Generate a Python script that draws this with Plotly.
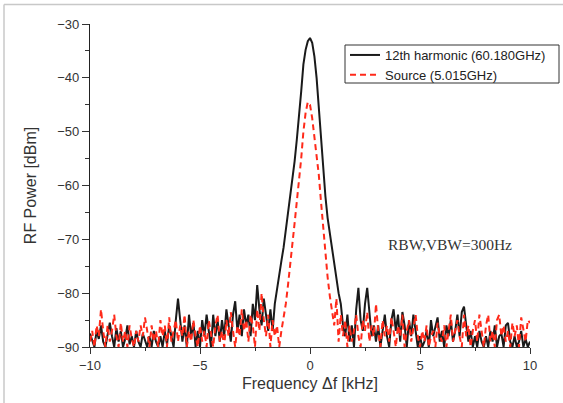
import numpy as np
import plotly.graph_objects as go

# Frequency grid (kHz), step 0.1 kHz from -10 to 10
freq_start = -10.0
freq_step = 0.1

black_12th = [
    -87.5, -89, -90, -87, -88.5, -86, -89, -90, -88, -85.5,
    -88, -90, -86.5, -89, -87, -90, -88.5, -86, -89.5, -88,
    -90, -87, -89, -90, -87.5, -89, -90, -88, -90, -87,
    -89, -90, -88, -90, -87, -89.5, -86, -88, -90, -85,
    -81, -85, -89, -86, -90, -84, -88, -85.5, -90, -87,
    -90, -85, -88, -84, -87, -90, -84, -88, -85, -89,
    -85, -88, -83, -86, -89, -84, -81.5, -87, -84, -88,
    -83, -86, -84, -88, -82, -85, -78.5, -83, -86, -81,
    -84, -87, -83, -87, -82, -79, -76.5, -74, -71.5, -68.5,
    -65.5, -62.5, -59, -55.5, -51.5, -47.5, -42.5, -37.5, -34.8, -33.2,
    -32.6, -33.5, -36, -40, -46, -52, -57.5, -62, -66, -69,
    -72, -75, -77.5, -80, -82, -86, -88, -84, -89, -86,
    -90, -83, -79, -85, -87, -82, -79, -84, -88, -86,
    -89, -86, -90, -87, -84, -88, -90, -85, -83, -87,
    -84, -89, -83.5, -86, -90, -85, -88, -84, -87, -90,
    -88, -90, -89, -87, -90, -85, -88, -86, -84.5, -89,
    -87, -90, -86, -88, -85, -89, -87, -84, -88, -83.5,
    -82.5, -86, -89, -87, -90, -88, -90, -87, -89, -90,
    -88, -90, -87, -89, -86, -90, -88, -87.5, -90, -86,
    -85.5, -89, -90, -88, -90, -89, -87, -90, -88.5, -90,
    -89,
]

red_source = [
    -89, -87, -90, -86, -88, -83, -87, -90, -86, -89,
    -87, -84, -88, -90, -85.5, -89, -87, -90, -86, -88.5,
    -90, -87, -89, -86, -88, -84.5, -87, -90, -86, -89,
    -87, -90, -85, -88, -86, -90, -84.5, -89, -87, -85,
    -89, -86, -88, -84, -90, -87, -89, -85, -88, -90,
    -86, -89, -87, -90, -85, -88, -90, -86, -84, -89,
    -87, -90, -85, -88, -83.5, -87, -90, -86, -88, -83,
    -87, -85, -89, -84, -86, -90, -83, -87, -80, -85,
    -88, -84, -90, -85, -88, -86, -90, -87, -84.5, -82,
    -78.5, -75, -71, -67, -63, -59.5, -55, -50, -46.5, -44.5,
    -45, -47.5, -51, -55.5, -58, -63, -68, -73, -77, -80.5,
    -83, -86, -81, -89, -84, -88, -85, -90, -86, -89,
    -87, -84, -88, -90, -85, -87, -83.5, -89, -86, -88,
    -82, -87, -90, -85, -88, -86, -89, -84.5, -87, -90,
    -86, -88, -84, -90, -87, -85, -89, -86, -84, -88,
    -90, -87, -89, -86, -90, -88, -87, -90, -85.5, -88,
    -89, -86, -90, -87, -84, -89, -87, -85, -88, -90,
    -84, -88, -86, -90, -87, -85, -89, -84, -87, -90,
    -86, -84, -89, -87, -90, -85, -84, -88, -86, -89,
    -87, -90, -85.5, -88, -86, -90, -84.5, -87, -89, -85,
    -85.5,
]

assert len(black_12th) == 201 and len(red_source) == 201
freq = np.round(freq_start + freq_step * np.arange(len(black_12th)), 2)

legend_names = ["12th harmonic (60.180GHz)", "Source (5.015GHz)"]
x_ticks = [-10, -5, 0, 5, 10]
y_ticks = [-90, -80, -70, -60, -50, -40, -30]

FONT = "Liberation Sans, Arial, sans-serif"

# pixel helpers for paper coordinates (plot area: x 90..530, y 24..347)
def px(x):
    return (x - 90) / 440

def py(y):
    return (347 - y) / 323

fig = go.Figure()
fig.add_trace(go.Scatter(
    x=freq, y=black_12th, mode="lines", name=legend_names[0],
    line=dict(color="#1a1a1a", width=2),
))
fig.add_trace(go.Scatter(
    x=freq, y=red_source, mode="lines", name=legend_names[1],
    line=dict(color="#ff2a1a", width=2, dash="6px,4px"),
))

fig.update_layout(
    width=563, height=403,
    margin=dict(l=90, r=33, t=24, b=56),
    paper_bgcolor="white", plot_bgcolor="white",
    font=dict(family=FONT, color="#333333", size=13),
    showlegend=True,
    legend=dict(
        x=px(345), xanchor="left",
        y=py(40), yanchor="top",
        borderwidth=0, bgcolor="rgba(0,0,0,0)",
        font=dict(family=FONT, size=13, color="#222222"),
        tracegroupgap=0,
    ),
    xaxis=dict(
        range=[-10, 10], tickvals=x_ticks, ticks="outside", ticklen=6,
        tickcolor="#333333", showline=True, linecolor="#333333", linewidth=1.2,
        showgrid=False, zeroline=False, tickfont=dict(size=13),
        minor=dict(dtick=2.5, ticks="outside", ticklen=3, tickcolor="#333333", showgrid=False),
        title=dict(text="Frequency Δf [kHz]", font=dict(size=16), standoff=6),
    ),
    yaxis=dict(
        range=[-90, -30], tickvals=y_ticks, ticks="outside", ticklen=7,
        tickcolor="#333333", showline=True, linecolor="#222222", linewidth=1.2,
        showgrid=False, zeroline=False, tickfont=dict(size=13),
        minor=dict(dtick=5, ticks="outside", ticklen=4, tickcolor="#333333", showgrid=False),
        title=dict(text="RF Power [dBm]", font=dict(size=16), standoff=16),
    ),
    annotations=[dict(
        text="RBW,VBW=300Hz", xref="paper", yref="paper",
        x=px(450), y=py(244), xanchor="center", yanchor="middle",
        showarrow=False, font=dict(family="Liberation Serif, Times New Roman, serif", size=15.5, color="#333333"),
    )],
    shapes=[
        # legend frame
        dict(type="rect", xref="paper", yref="paper",
             x0=px(345), x1=px(559), y0=py(83), y1=py(45),
             line=dict(color="#333333", width=1), fillcolor="white", layer="below"),
        # outer figure frame (left and top edges)
        dict(type="line", xref="paper", yref="paper",
             x0=px(4), x1=1.2, y0=py(4.5), y1=py(4.5),
             line=dict(color="#c8c8c8", width=1.5)),
        dict(type="line", xref="paper", yref="paper",
             x0=px(4), x1=px(4), y0=-0.3, y1=py(4.5),
             line=dict(color="#c8c8c8", width=1.5)),
    ],
)

fig.write_html(
    "out.html",
    config={"displayModeBar": False},
    post_script="document.body.style.margin='0';document.body.style.overflow='hidden';",
)
